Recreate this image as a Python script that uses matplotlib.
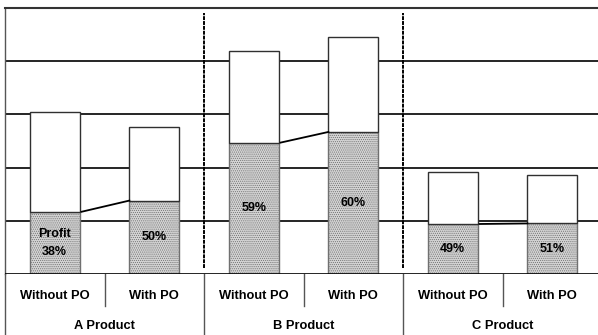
import matplotlib.pyplot as plt
import matplotlib as mpl

plt.rcParams['font.family'] = ['Liberation Sans', 'DejaVu Sans']
mpl.rcParams['hatch.color'] = '#f4f4f4'
mpl.rcParams['hatch.linewidth'] = 0.5

products = ['A Product', 'B Product', 'C Product']
options = ['Without PO', 'With PO']
# total height of each bar and the profit part (bottom segment)
totals = [3.05, 2.76, 4.19, 4.45, 1.92, 1.86]
profit = [1.17, 1.38, 2.47, 2.67, 0.94, 0.95]
labels = ['Profit\n38%', '50%', '59%', '60%', '49%', '51%']

fig = plt.figure(figsize=(5.98, 3.35), dpi=100)
ax = fig.add_axes([5/598, 61/335, 597/598, 266/335])

x = list(range(len(totals)))
rest = [t - p for t, p in zip(totals, profit)]

# grid
for g in [1, 2, 3, 4]:
    ax.axhline(g, color='black', lw=1.2, zorder=1)

ax.bar(x, profit, width=0.5, color='#d4d4d4', edgecolor='#707070', lw=1,
       hatch='........', zorder=3)
ax.bar(x, rest, width=0.5, bottom=profit, color='white', edgecolor='#303030',
       lw=1, zorder=3)

for i in x:
    ax.text(i, profit[i] / 2, labels[i], ha='center', va='center',
            fontsize=9, fontweight='bold', linespacing=1.7, zorder=4)

# connectors between profit tops within each product
for k in range(len(products)):
    a, b = 2 * k, 2 * k + 1
    ax.plot([a + 0.27, b - 0.25], [profit[a], profit[b]], color='black',
            lw=1.3, zorder=4)

# group separators
for s in [1.5, 3.5]:
    ax.plot([s, s], [0.12, 4.9], color='black', lw=1.4, ls=(0, (2, 0.5)),
            zorder=2)

ax.set_xlim(-0.5, 5.5)
ax.set_ylim(0, 5)
ax.set_xticks([])
ax.set_yticks([])
for sp in ['right', 'bottom']:
    ax.spines[sp].set_visible(False)
ax.spines['top'].set_color('#333333')
ax.spines['top'].set_linewidth(1.5)
ax.spines['left'].set_color('#555555')
ax.spines['left'].set_linewidth(1)
ax.axhline(0, color='black', lw=1.2, zorder=5)

# two level category axis
trans = ax.get_xaxis_transform()
ax.plot([-0.5, -0.5], [0, -61/266], color='#555555', lw=1,
        transform=trans, clip_on=False)
for i in x:
    ax.text(i, -22/266, options[i % 2], transform=trans, ha='center',
            va='center', fontsize=9.3, fontweight='bold')
for k, name in enumerate(products):
    ax.text(2 * k + 0.5, -52/266, name, transform=trans, ha='center',
            va='center', fontsize=9.3, fontweight='bold')
    ax.plot([2 * k + 0.5, 2 * k + 0.5], [0, -32/266], color='#555555',
            lw=1, transform=trans, clip_on=False)
for s in [1.5, 3.5]:
    ax.plot([s, s], [0, -61/266], color='#555555', lw=1,
            transform=trans, clip_on=False)

fig.savefig('out.png', dpi=100)
